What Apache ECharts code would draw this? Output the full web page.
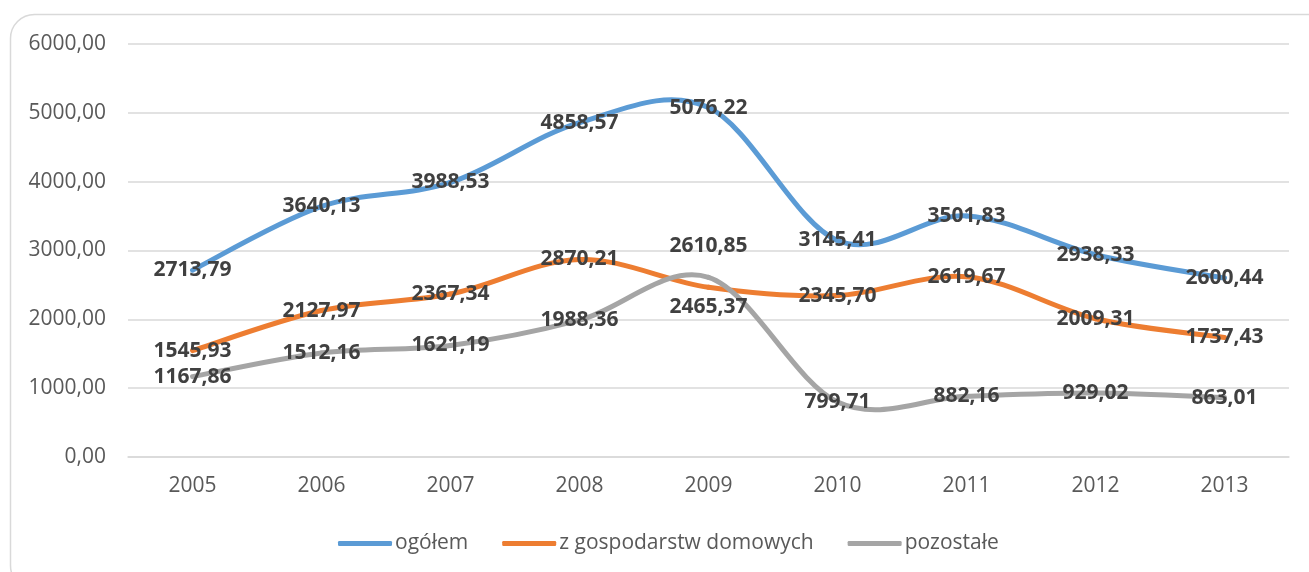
<!DOCTYPE html>
<html>
<head>
<meta charset="utf-8">
<script src="https://cdn.jsdelivr.net/npm/echarts@6/dist/echarts.min.js"></script>
<style>
html,body{margin:0;padding:0;background:#fff;}
#chart{width:1309px;height:572px;}
</style>
</head>
<body>
<div id="chart"></div>
<script>
var categories = ['2005','2006','2007','2008','2009','2010','2011','2012','2013'];
var ogolem = [2713.79, 3640.13, 3988.53, 4858.57, 5076.22, 3145.41, 3501.83, 2938.33, 2600.44];
var gospodarstwa = [1545.93, 2127.97, 2367.34, 2870.21, 2465.37, 2345.70, 2619.67, 2009.31, 1737.43];
var pozostale = [1167.86, 1512.16, 1621.19, 1988.36, 2610.85, 799.71, 882.16, 929.02, 863.01];
var seriesNames = ['ogółem', 'z gospodarstw domowych', 'pozostałe'];
var yTicks = [0, 1000, 2000, 3000, 4000, 5000, 6000];

var FONT = '"Open Sans", "DejaVu Sans", sans-serif';
function fmt(v){ return Number(v).toFixed(2).replace('.', ','); }

function buildData(arr, offsets){
  return arr.map(function(v, i){
    var item = {value: v};
    if (offsets && offsets[i]) item.label = {offset: offsets[i]};
    return item;
  });
}

// Labels + legend carrier (line itself hidden; curve drawn by custom series below)
function mkSeries(name, arr, color, offsets){
  return {
    name: name,
    type: 'line',
    z: 5,
    data: buildData(arr, offsets),
    symbol: 'circle',
    symbolSize: 0.1,
    showSymbol: true,
    color: color,
    lineStyle: {width: 0, opacity: 0},
    itemStyle: {color: color},
    label: {
      show: true,
      position: 'inside',
      formatter: function(p){ return fmt(p.value); },
      fontFamily: FONT,
      fontWeight: 'bold',
      fontSize: 21,
      color: '#404040'
    },
    emphasis: {disabled: true},
    animation: false
  };
}

// Spreadsheet-style smoothed curve (Catmull-Rom bezier through the data points, mapped via api.coord)
function mkCurve(arr, color, z){
  return {
    type: 'custom',
    name: '_curve' + z,
    z: z,
    silent: true,
    animation: false,
    data: arr.map(function(v, i){ return [i, v]; }),
    renderItem: function(params, api){
      var i = params.dataIndex;
      var n = arr.length;
      if (i >= n - 1) return null;
      function P(k){ k = Math.max(0, Math.min(n - 1, k)); return api.coord([k, arr[k]]); }
      var p0 = P(i - 1), p1 = P(i), p2 = P(i + 1), p3 = P(i + 2);
      var t = 1 / 6;
      return {
        type: 'bezierCurve',
        shape: {
          x1: p1[0], y1: p1[1],
          cpx1: p1[0] + (p2[0] - p0[0]) * t, cpy1: p1[1] + (p2[1] - p0[1]) * t,
          cpx2: p2[0] - (p3[0] - p1[0]) * t, cpy2: p2[1] - (p3[1] - p1[1]) * t,
          x2: p2[0], y2: p2[1]
        },
        style: {stroke: color, lineWidth: 5, fill: null, lineCap: 'round'}
      };
    }
  };
}

var chart = echarts.init(document.getElementById('chart'), null, {renderer: 'canvas'});
chart.setOption({
  backgroundColor: '#fff',
  animation: false,
  graphic: [{
    type: 'rect',
    shape: {x: 10.5, y: 14.5, width: 1320, height: 575, r: 24},
    style: {fill: 'none', stroke: '#d9d9d9', lineWidth: 1.5},
    silent: true,
    z: -10
  }],
  grid: {left: 128, right: 20, top: 44, bottom: 115, containLabel: false},
  legend: {
    top: 528,
    left: 333,
    icon: 'roundRect',
    itemWidth: 54,
    itemHeight: 5,
    itemGap: 34,
    textStyle: {fontFamily: FONT, fontSize: 21, color: '#595959', padding: [0,0,0,-2]},
    data: seriesNames
  },
  xAxis: {
    type: 'category',
    data: categories,
    boundaryGap: true,
    axisLine: {show: true, lineStyle: {color: '#d9d9d9', width: 1.5}},
    axisTick: {show: false},
    axisLabel: {fontFamily: FONT, fontSize: 21, color: '#595959', margin: 19}
  },
  yAxis: {
    type: 'value',
    min: yTicks[0],
    max: yTicks[yTicks.length-1],
    interval: 1000,
    axisLine: {show: false},
    axisTick: {show: false},
    splitLine: {lineStyle: {color: '#d9d9d9', width: 1.5}},
    axisLabel: {fontFamily: FONT, fontSize: 21, color: '#595959', margin: 22,
      formatter: function(v){ return fmt(v); }}
  },
  series: [
    mkCurve(ogolem, '#5B9BD5', 2),
    mkCurve(gospodarstwa, '#ED7D31', 3),
    mkCurve(pozostale, '#A5A5A5', 4),
    mkSeries(seriesNames[0], ogolem, '#5B9BD5'),
    mkSeries(seriesNames[1], gospodarstwa, '#ED7D31', {4: [0, 20]}),
    mkSeries(seriesNames[2], pozostale, '#A5A5A5', {4: [0, -31]})
  ]
});
</script>
</body>
</html>
